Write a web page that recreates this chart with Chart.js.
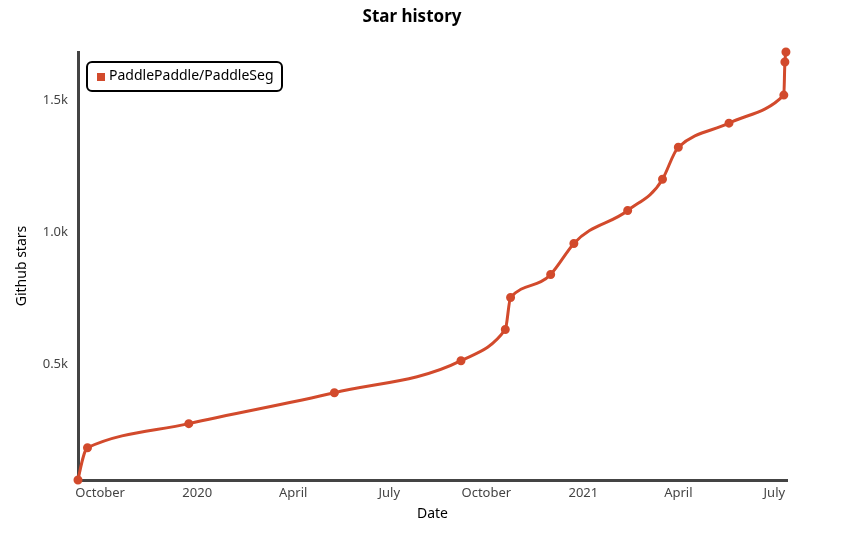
<!DOCTYPE html>
<html lang="en">
<head>
    <meta charset="UTF-8">
    <title>Star history</title>
    <script src="https://cdn.jsdelivr.net/npm/chart.js"></script>
    <style>
        body {
            margin: 0;
            padding: 0;
            background: #fff;
        }
        canvas {
            display: block;
        }
    </style>
</head>
<body>
    <canvas id="starChart" width="858" height="541"></canvas>

    <script>
        // star counts
        var repoName = 'PaddlePaddle/PaddleSeg';
        var dates = ['2019-09-10', '2019-09-19', '2019-12-24', '2020-05-10', '2020-09-07',
                     '2020-10-19', '2020-10-24', '2020-12-01', '2020-12-23', '2021-02-12',
                     '2021-03-17', '2021-04-01', '2021-05-19', '2021-07-10', '2021-07-11', '2021-07-12'];
        var stars = [64, 186, 277, 394, 515, 633, 754, 841, 958, 1083, 1201, 1322, 1413, 1519, 1644, 1682];

        var tickDates = ['2019-10-01', '2020-01-01', '2020-04-01', '2020-07-01',
                         '2020-10-01', '2021-01-01', '2021-04-01', '2021-07-01'];
        var tickLabels = ['October', '2020', 'April', 'July', 'October', '2021', 'April', 'July'];
        var yTicks = [500, 1000, 1500];
        var xEnd = '2021-07-13';

        var lineColor = '#d24a2c';
        var fontFamily = '"Noto Sans", sans-serif';

        var points = dates.map(function (d, i) {
            return { x: Date.parse(d), y: stars[i] };
        });
        var tickTimes = tickDates.map(function (d) { return Date.parse(d); });

        // d3-style monotoneX tangents (less overshoot than chart.js monotone)
        var monotoneX = {
            id: 'monotoneX',
            beforeDatasetDraw: function (chart, args) {
                var line = args.meta.dataset;
                var pts = args.meta.data;
                line.updateControlPoints(chart.chartArea);
                var n = pts.length;
                var sign = function (v) { return v < 0 ? -1 : 1; };
                var t = [];
                for (var i = 0; i < n; i++) {
                    if (i === 0 || i === n - 1) continue;
                    var h0 = pts[i].x - pts[i - 1].x, h1 = pts[i + 1].x - pts[i].x;
                    var s0 = (pts[i].y - pts[i - 1].y) / (h0 || (h1 < 0 && -0));
                    var s1 = (pts[i + 1].y - pts[i].y) / (h1 || (h0 < 0 && -0));
                    var p = (s0 * h1 + s1 * h0) / (h0 + h1);
                    t[i] = (sign(s0) + sign(s1)) * Math.min(Math.abs(s0), Math.abs(s1), 0.5 * Math.abs(p)) || 0;
                }
                var h = pts[1].x - pts[0].x;
                t[0] = h ? (3 * (pts[1].y - pts[0].y) / h - t[1]) / 2 : t[1];
                h = pts[n - 1].x - pts[n - 2].x;
                t[n - 1] = h ? (3 * (pts[n - 1].y - pts[n - 2].y) / h - t[n - 2]) / 2 : t[n - 2];
                for (var j = 0; j < n; j++) {
                    var pt = pts[j];
                    if (j > 0) {
                        var dl = (pt.x - pts[j - 1].x) / 3;
                        pt.cp1x = pt.x - dl;
                        pt.cp1y = pt.y - dl * t[j];
                    }
                    if (j < n - 1) {
                        var dr = (pts[j + 1].x - pt.x) / 3;
                        pt.cp2x = pt.x + dr;
                        pt.cp2y = pt.y + dr * t[j];
                    }
                }
                line._path = undefined;
            }
        };

        // title + legend box drawn inside the plot like the xkcd style chart
        var decorations = {
            id: 'decorations',
            afterDraw: function (chart) {
                var ctx = chart.ctx;
                var area = chart.chartArea;
                ctx.save();

                ctx.fillStyle = '#000';
                ctx.font = 'bold 17px ' + fontFamily;
                ctx.textAlign = 'center';
                ctx.textBaseline = 'middle';
                ctx.fillText('Star history', 412, 17);

                var ds = chart.data.datasets[0];
                var bx = area.left + 9, by = area.top + 10, bw = 195, bh = 29;
                ctx.lineWidth = 2;
                ctx.strokeStyle = '#000';
                ctx.fillStyle = '#fff';
                ctx.beginPath();
                ctx.roundRect(bx, by, bw, bh, 5);
                ctx.fill();
                ctx.stroke();

                ctx.fillStyle = ds.borderColor;
                ctx.fillRect(bx + 10, by + 11, 8, 8);

                ctx.fillStyle = '#000';
                ctx.font = '14px ' + fontFamily;
                ctx.textAlign = 'left';
                ctx.fillText(ds.label, bx + 22, by + bh / 2);
                ctx.restore();
            }
        };

        var ctx = document.getElementById('starChart').getContext('2d');
        var starChart = new Chart(ctx, {
            type: 'line',
            data: {
                datasets: [{
                    label: repoName,
                    data: points,
                    borderColor: lineColor,
                    backgroundColor: lineColor,
                    pointBackgroundColor: lineColor,
                    pointBorderColor: lineColor,
                    pointRadius: 3,
                    borderWidth: 3,
                    cubicInterpolationMode: 'monotone',
                    clip: false
                }]
            },
            options: {
                responsive: false,
                animation: false,
                layout: {
                    padding: { left: 0, right: 71, top: 52, bottom: 0 }
                },
                plugins: {
                    legend: { display: false },
                    title: { display: false },
                    tooltip: { enabled: false }
                },
                scales: {
                    x: {
                        type: 'linear',
                        min: points[0].x,
                        max: Date.parse(xEnd),
                        afterFit: function (scale) { scale.height = 61; },
                        afterBuildTicks: function (scale) {
                            scale.ticks = tickTimes.map(function (t) { return { value: t }; });
                        },
                        grid: { display: false, drawTicks: false },
                        border: { color: '#444', width: 3 },
                        ticks: {
                            autoSkip: false,
                            maxRotation: 0,
                            padding: 5,
                            color: '#444',
                            font: { family: fontFamily, size: 13 },
                            callback: function (value) {
                                var i = tickTimes.indexOf(value);
                                return i >= 0 ? tickLabels[i] : '';
                            }
                        },
                        title: {
                            display: true,
                            text: 'Date',
                            color: '#000',
                            font: { family: fontFamily, size: 14 },
                            padding: { top: 0, bottom: 19 }
                        }
                    },
                    y: {
                        min: Math.min.apply(null, stars),
                        max: Math.max.apply(null, stars),
                        afterFit: function (scale) { scale.width = 78; },
                        afterBuildTicks: function (scale) {
                            scale.ticks = yTicks.map(function (v) { return { value: v }; });
                        },
                        grid: { display: false, drawTicks: false },
                        border: { color: '#444', width: 3 },
                        ticks: {
                            padding: 10,
                            color: '#444',
                            font: { family: fontFamily, size: 13 },
                            callback: function (value) {
                                return (value / 1000).toFixed(1) + 'k';
                            }
                        },
                        title: {
                            display: true,
                            text: 'Github stars',
                            color: '#000',
                            font: { family: fontFamily, size: 14 },
                            padding: { top: 14, bottom: 0 }
                        }
                    }
                }
            },
            plugins: [monotoneX, decorations]
        });
    </script>
</body>
</html>
